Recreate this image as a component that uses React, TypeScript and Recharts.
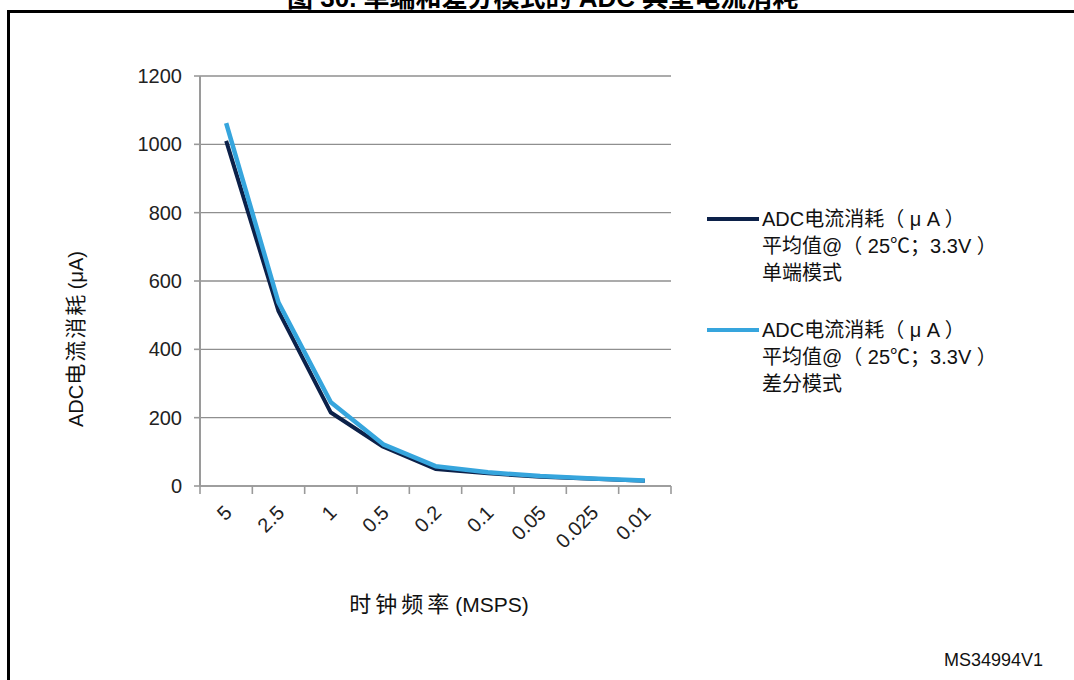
import { CartesianGrid, Line, LineChart, XAxis, YAxis } from "recharts";

// clock frequency (MSPS) categories and ADC current (µA)
const categories = ["5", "2.5", "1", "0.5", "0.2", "0.1", "0.05", "0.025", "0.01"];
const singleEnded = [1010, 512, 215, 115, 50, 37, 27, 21, 15];
const differential = [1062, 537, 245, 122, 58, 40, 29, 22, 16];
const yTicks = [0, 200, 400, 600, 800, 1000, 1200];

const legendLines = ["ADC电流消耗（ μ A ）", "平均值@（ 25℃；3.3V ）"];

const data = categories.map((freq, i) => ({
  freq,
  single: singleEnded[i],
  diff: differential[i],
}));

const FONT = '"Liberation Sans", Arial, "Noto Sans CJK SC", sans-serif';
const AXIS = "#9a9a9a";
const GRID = "#8f8f8f";
const DARK = "#0c2149";
const LIGHT = "#36a5dd";

const PLOT_LEFT = 200;
const PLOT_RIGHT = 671;
const BAND = (PLOT_RIGHT - PLOT_LEFT) / categories.length;

function FreqTick(props: any) {
  const { x, y, payload, index } = props;
  const half = BAND / 2;
  const ax = x + 7;
  const ay = y + 28;
  return (
    <g>
      <line x1={x - half} x2={x - half} y1={y} y2={y + 8} stroke={AXIS} strokeWidth={1.6} />
      {index === categories.length - 1 && (
        <line x1={x + half} x2={x + half} y1={y} y2={y + 8} stroke={AXIS} strokeWidth={1.6} />
      )}
      <text
        x={ax}
        y={ay}
        transform={`rotate(-45 ${ax} ${ay})`}
        textAnchor="end"
        fontSize={20}
        fontFamily={FONT}
        fill="#222"
      >
        {payload.value}
      </text>
    </g>
  );
}

function LegendEntry({ color, mode, top }: { color: string; mode: string; top: number }) {
  return (
    <>
      <div
        style={{
          position: "absolute",
          left: 707,
          top: top + 11,
          width: 52,
          height: 4,
          background: color,
        }}
      />
      <div
        style={{
          position: "absolute",
          left: 762,
          top,
          fontSize: 20,
          lineHeight: "27px",
          color: "#111",
          whiteSpace: "nowrap",
        }}
      >
        {legendLines.map((l) => (
          <div key={l}>{l}</div>
        ))}
        <div>{mode}</div>
      </div>
    </>
  );
}

export default function App() {
  return (
    <div
      style={{
        position: "fixed",
        left: 0,
        top: 0,
        width: 1074,
        height: 680,
        overflow: "hidden",
        background: "#fff",
        fontFamily: FONT,
      }}
    >
      <div
        style={{
          position: "absolute",
          left: 287,
          top: -15,
          fontSize: 26,
          lineHeight: "26px",
          fontWeight: "bold",
          whiteSpace: "nowrap",
          color: "#000",
        }}
      >
        图 30. 单端和差分模式的 ADC 典型电流消耗
      </div>
      <div style={{ position: "absolute", left: 7, top: 10, width: 1080, height: 2.5, background: "#000" }} />
      <div style={{ position: "absolute", left: 7, top: 10, width: 2.5, height: 680, background: "#000" }} />

      <div style={{ position: "absolute", left: 0, top: 0 }}>
        <LineChart
          width={1074}
          height={680}
          data={data}
          margin={{ top: 76, right: 1074 - PLOT_RIGHT, left: PLOT_LEFT - 60, bottom: 680 - 486 - 40 }}
        >
          <CartesianGrid vertical={false} stroke={GRID} strokeWidth={1.3} />
          <XAxis
            dataKey="freq"
            scale="band"
            height={40}
            tickLine={false}
            tickSize={0}
            tickMargin={0}
            interval={0}
            axisLine={{ stroke: AXIS, strokeWidth: 1.6 }}
            tick={<FreqTick />}
          />
          <YAxis
            width={60}
            domain={[0, 1200]}
            ticks={yTicks}
            interval={0}
            tickSize={6}
            tickMargin={12}
            axisLine={{ stroke: AXIS, strokeWidth: 2 }}
            tickLine={{ stroke: AXIS, strokeWidth: 1.6 }}
            tick={{ fontSize: 20, fill: "#222", fontFamily: FONT }}
          />
          <Line
            dataKey="single"
            stroke={DARK}
            strokeWidth={4}
            dot={false}
            strokeLinejoin="round"
            isAnimationActive={false}
          />
          <Line
            dataKey="diff"
            stroke={LIGHT}
            strokeWidth={4.5}
            dot={false}
            strokeLinejoin="round"
            isAnimationActive={false}
          />
        </LineChart>
      </div>

      <div
        style={{
          position: "absolute",
          left: 74,
          top: 339,
          transform: "translate(-50%, -50%) rotate(-90deg)",
          fontSize: 20,
          whiteSpace: "nowrap",
          color: "#111",
        }}
      >
        ADC<span style={{ fontSize: 21, letterSpacing: 2 }}>电流消</span>
        <span style={{ fontSize: 21 }}>耗</span> (μA)
      </div>
      <div
        style={{
          position: "absolute",
          left: 439,
          top: 602,
          transform: "translate(-50%, -50%)",
          fontSize: 21,
          whiteSpace: "nowrap",
          color: "#111",
        }}
      >
        <span style={{ fontSize: 22, letterSpacing: 4 }}>时钟频</span>
        <span style={{ fontSize: 22 }}>率</span> (MSPS)
      </div>

      <LegendEntry color={DARK} mode="单端模式" top={206} />
      <LegendEntry color={LIGHT} mode="差分模式" top={317} />

      <div
        style={{
          position: "absolute",
          left: 944,
          top: 650,
          fontSize: 18,
          whiteSpace: "nowrap",
          color: "#111",
        }}
      >
        MS34994V1
      </div>
    </div>
  );
}
